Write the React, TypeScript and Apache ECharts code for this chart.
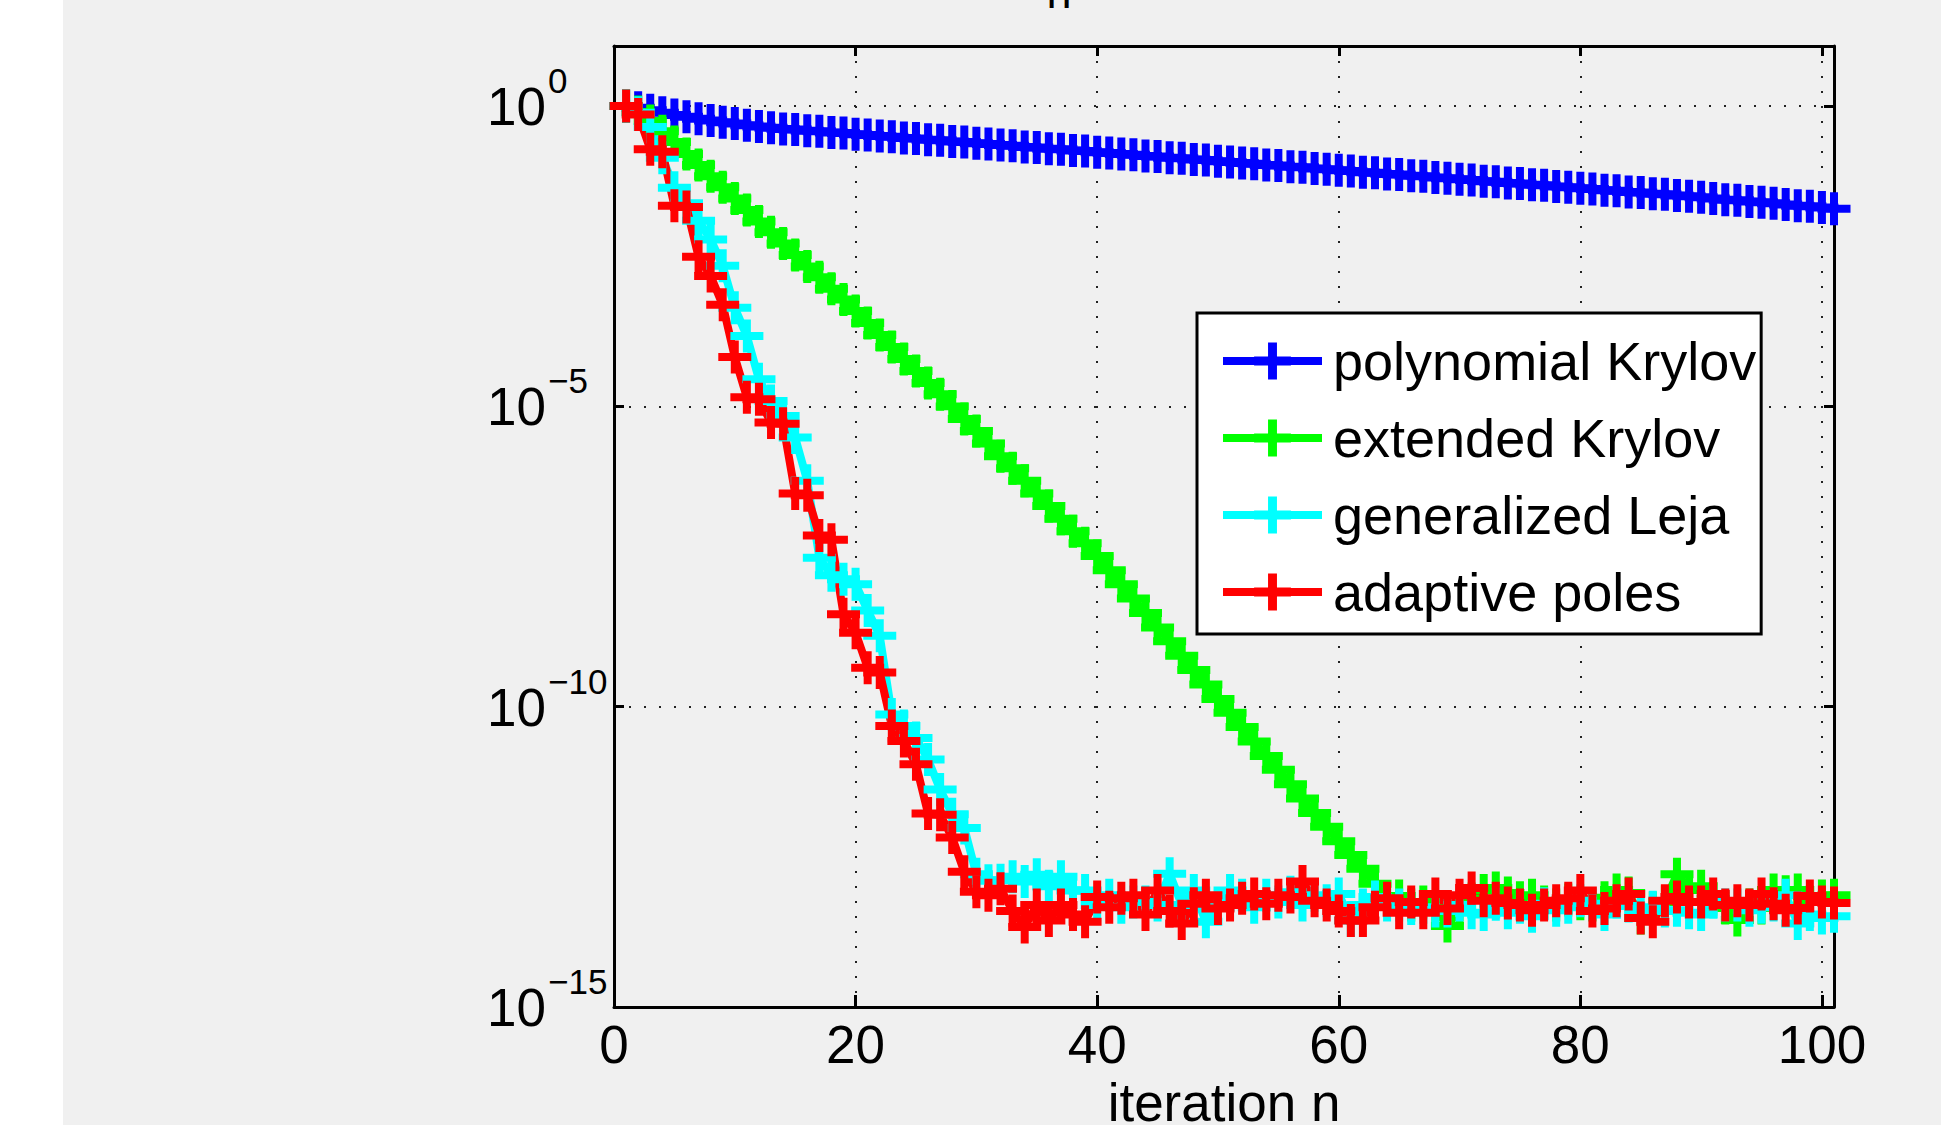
import React, { useEffect, useRef } from 'react';
import * as echarts from 'echarts';

// iteration n = index + 1 (1..101); values are log10 of the error
const seriesNames = ['polynomial Krylov', 'extended Krylov', 'generalized Leja', 'adaptive poles'];
const seriesColors = ['#0000ff', '#00ff00', '#00ffff', '#ff0000'];

const polynomialKrylovLog10 = [
  0, -0.03, -0.07, -0.11, -0.15, -0.18, -0.21, -0.24, -0.27, -0.29,
  -0.32, -0.34, -0.36, -0.38, -0.39, -0.41, -0.42, -0.44, -0.45, -0.47,
  -0.48, -0.5, -0.51, -0.53, -0.54, -0.56, -0.57, -0.59, -0.6, -0.62,
  -0.63, -0.65, -0.66, -0.68, -0.69, -0.71, -0.72, -0.74, -0.75, -0.77,
  -0.78, -0.8, -0.81, -0.83, -0.84, -0.86, -0.87, -0.89, -0.9, -0.92,
  -0.93, -0.95, -0.96, -0.98, -0.99, -1.01, -1.02, -1.04, -1.05, -1.07,
  -1.08, -1.1, -1.11, -1.13, -1.14, -1.16, -1.17, -1.19, -1.2, -1.22,
  -1.23, -1.25, -1.26, -1.28, -1.29, -1.31, -1.32, -1.34, -1.35, -1.37,
  -1.38, -1.4, -1.41, -1.43, -1.44, -1.46, -1.47, -1.49, -1.5, -1.52,
  -1.54, -1.56, -1.57, -1.59, -1.6, -1.62, -1.64, -1.66, -1.67, -1.69, -1.71,
];

const extendedKrylovLog10 = [
  0, -0.1, -0.25, -0.42, -0.6, -0.8, -0.98, -1.17, -1.35, -1.54,
  -1.73, -1.92, -2.1, -2.29, -2.48, -2.67, -2.85, -3.04, -3.22, -3.41,
  -3.61, -3.81, -4.01, -4.21, -4.41, -4.61, -4.8, -5.0, -5.21, -5.41,
  -5.62, -5.83, -6.03, -6.24, -6.45, -6.66, -6.87, -7.08, -7.28, -7.49,
  -7.73, -7.96, -8.2, -8.44, -8.68, -8.91, -9.15, -9.39, -9.63, -9.87,
  -10.1, -10.34, -10.58, -10.82, -11.05, -11.29, -11.53, -11.77, -12.0, -12.24,
  -12.47, -12.7, -12.95, -13.2, -13.15, -13.3, -13.25, -13.35, -13.65, -13.35,
  -13.2, -13.06, -13.02, -13.1, -13.18, -13.14, -13.25, -13.3, -13.22, -13.28,
  -13.3, -13.18, -13.05, -13.1, -13.52, -13.35, -13.25, -12.79, -13.05, -12.99,
  -13.2, -13.35, -13.55, -13.3, -13.35, -13.05, -13.08, -13.05, -13.25, -13.15, -13.14,
];

const generalizedLejaLog10 = [
  0, -0.11, -0.35, -0.86, -1.36, -1.62, -1.91, -2.22, -2.66, -3.36,
  -3.83, -4.55, -4.91, -5.16, -5.52, -6.24, -7.52, -7.81, -7.88, -7.96,
  -8.4, -8.82, -10.13, -10.32, -10.52, -10.88, -11.38, -11.79, -12.02, -12.79,
  -12.9, -12.89, -12.83, -12.91, -12.8, -12.99, -12.83, -13.06, -13.06, -13.3,
  -13.14, -13.34, -13.25, -13.25, -13.3, -12.78, -13.3, -13.06, -13.58, -13.34,
  -13.06, -13.14, -13.34, -13.14, -13.25, -13.09, -13.3, -13.14, -13.23, -13.12,
  -13.56, -13.3, -13.17, -13.3, -13.3, -13.36, -13.34, -13.4, -13.4, -13.3,
  -13.43, -13.46, -13.29, -13.43, -13.34, -13.49, -13.28, -13.39, -13.34, -13.23,
  -13.28, -13.46, -13.25, -13.32, -13.39, -13.34, -13.4, -13.39, -13.43, -13.46,
  -13.25, -13.3, -13.3, -13.39, -13.34, -13.3, -13.14, -13.61, -13.46, -13.52, -13.49,
];

const adaptivePolesLog10 = [
  0, -0.14, -0.72, -0.76, -1.66, -1.68, -2.51, -2.83, -3.31, -4.18,
  -4.85, -4.88, -5.27, -5.29, -6.45, -6.48, -7.15, -7.22, -8.46, -8.77,
  -9.35, -9.43, -10.32, -10.57, -10.96, -11.78, -11.8, -12.18, -12.75, -13.08,
  -13.14, -13.03, -13.4, -13.67, -13.3, -13.56, -13.3, -13.46, -13.58, -13.17,
  -13.34, -13.19, -13.14, -13.46, -13.06, -13.4, -13.61, -13.28, -13.14, -13.36,
  -13.3, -13.19, -13.12, -13.28, -13.14, -13.17, -12.91, -13.23, -13.3, -13.4,
  -13.56, -13.56, -13.34, -13.19, -13.43, -13.25, -13.43, -13.12, -13.36, -13.14,
  -13.02, -13.23, -13.19, -13.27, -13.3, -13.39, -13.3, -13.23, -13.19, -13.06,
  -13.4, -13.36, -13.23, -13.12, -13.52, -13.58, -13.23, -13.17, -13.25, -13.25,
  -13.12, -13.3, -13.23, -13.3, -13.12, -13.28, -13.39, -13.35, -13.15, -13.25, -13.27,
];

const xTicks = [0, 20, 40, 60, 80, 100];
const yTickExponents = [-15, -10, -5, 0];
const xAxisTitle = 'iteration n';
const titleFragment = 'n';

const FONT = "'Liberation Sans', Arial, Helvetica, sans-serif";
const PLUS = 'path://M12.5,0h8v12.5h12.5v8h-12.5v12.5h-8v-12.5h-12.5v-8h12.5z';

export default function App() {
  const ref = useRef<HTMLDivElement>(null);

  useEffect(() => {
    if (!ref.current) return;
    const chart = echarts.init(ref.current, undefined, { renderer: 'svg' });
    const allLogs = [polynomialKrylovLog10, extendedKrylovLog10, generalizedLejaLog10, adaptivePolesLog10];

    const series = allLogs.map((logs, si) => ({
      type: 'line',
      name: seriesNames[si],
      data: logs.map((e, i) => [i + 1, Math.pow(10, e)]),
      symbol: PLUS,
      symbolSize: 33,
      showAllSymbol: true,
      lineStyle: { color: seriesColors[si], width: 8 },
      itemStyle: { color: seriesColors[si], borderWidth: 0 },
      emphasis: { disabled: true },
      silent: true,
    }));

    const dotted = { color: '#222', width: 2, type: [2, 13] as number[] };
    const blackLine = { color: '#000', width: 3 };

    chart.setOption({
      animation: false,
      backgroundColor: '#ffffff',
      graphic: [
        {
          type: 'rect', z: -100, silent: true,
          shape: { x: 63, y: 0, width: 1878, height: 1125 },
          style: { fill: '#f0f0f0' },
        },
        {
          type: 'text', silent: true, x: 1059, y: -8,
          style: { text: titleFragment, fontSize: 45, fontFamily: FONT, fill: '#000', align: 'center', verticalAlign: 'middle' },
        },
      ],
      grid: { left: 614, top: 46, right: 107, bottom: 118, containLabel: false, outerBoundsMode: 'none' },
      legend: {
        orient: 'vertical',
        left: 1197,
        top: 313,
        backgroundColor: '#ffffff',
        borderColor: '#000',
        borderWidth: 3,
        borderRadius: 0,
        padding: [21, 5, 15, 22],
        itemWidth: 99,
        itemHeight: 46,
        itemGap: 23,
        selectedMode: false,
        data: seriesNames,
        lineStyle: { width: 8 },
        textStyle: { fontSize: 54, fontFamily: FONT, color: '#000', lineHeight: 46, padding: [0, 0, 0, 6] },
      },
      xAxis: [
        {
          type: 'value', min: 0, max: 101, interval: 20, position: 'bottom',
          axisLine: { show: true, onZero: false, lineStyle: blackLine },
          axisTick: { show: true, inside: true, length: 12, lineStyle: blackLine },
          axisLabel: {
            fontSize: 53, color: '#000', fontFamily: FONT, margin: 11,
            formatter: (v: number) => (xTicks.includes(v) ? String(v) : ''),
          },
          splitLine: { show: true, lineStyle: dotted },
          name: xAxisTitle, nameLocation: 'middle', nameGap: 58,
          nameTextStyle: { fontSize: 53, color: '#000', fontFamily: FONT },
        },
        {
          type: 'value', min: 0, max: 101, interval: 20, position: 'top',
          axisLine: { show: true, onZero: false, lineStyle: blackLine },
          axisTick: { show: true, inside: true, length: 10, lineStyle: blackLine },
          axisLabel: { show: false },
          splitLine: { show: false },
        },
      ],
      yAxis: [
        {
          type: 'log', logBase: 10, min: 1e-15, max: 10, interval: 5, position: 'left',
          axisLine: { show: true, onZero: false, lineStyle: blackLine },
          axisTick: { show: true, inside: true, length: 10, lineStyle: blackLine },
          splitLine: { show: true, lineStyle: dotted },
          axisLabel: {
            align: 'left', margin: 127, verticalAlign: 'middle',
            formatter: (v: number) => {
              const e = Math.round(Math.log10(v));
              if (!yTickExponents.includes(e)) return '';
              const s = e === 0 ? '0' : '\u2212' + String(-e);
              return '{s|' + s + '}\n{b|10}';
            },
            rich: {
              s: { fontSize: 35, lineHeight: 1, padding: [0, 0, 0, 61], fontFamily: FONT, color: '#000' },
              b: { fontSize: 53, lineHeight: 51, fontFamily: FONT, color: '#000' },
            },
          },
        },
        {
          type: 'log', logBase: 10, min: 1e-15, max: 10, interval: 5, position: 'right',
          axisLine: { show: true, onZero: false, lineStyle: blackLine },
          axisTick: { show: true, inside: true, length: 10, lineStyle: blackLine },
          axisLabel: { show: false },
          splitLine: { show: false },
        },
      ],
      series,
    });

    return () => chart.dispose();
  }, []);

  return (
    <div
      ref={ref}
      style={{ position: 'fixed', left: 0, top: 0, width: 1941, height: 1125 }}
    />
  );
}
